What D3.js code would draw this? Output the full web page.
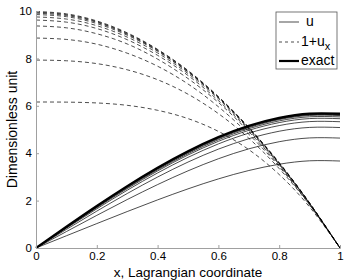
<!DOCTYPE html>
<html>
<head>
<meta charset="utf-8">
<script src="https://cdn.jsdelivr.net/npm/d3@7"></script>
<style>
  body { margin: 0; background: #fff; }
  text { font-family: "Liberation Sans", Arial, sans-serif; fill: #000; }
</style>
</head>
<body>
<script>
// sample points along x (Lagrangian coordinate)
var xs = [0, 0.1, 0.2, 0.3, 0.4, 0.5, 0.6, 0.7, 0.8, 0.9, 1];

// numerical iterations of u (solid thin lines)
var uSeries = [
  [0, 0.516, 1.030, 1.538, 2.030, 2.495, 2.916, 3.270, 3.534, 3.679, 3.67],
  [0, 0.693, 1.377, 2.044, 2.676, 3.256, 3.766, 4.184, 4.485, 4.644, 4.638],
  [0, 0.784, 1.556, 2.298, 2.995, 3.626, 4.172, 4.611, 4.927, 5.088, 5.083],
  [0, 0.835, 1.653, 2.437, 3.167, 3.825, 4.392, 4.846, 5.166, 5.334, 5.328],
  [0, 0.859, 1.700, 2.504, 3.252, 3.925, 4.501, 4.965, 5.292, 5.461, 5.456],
  [0, 0.872, 1.725, 2.541, 3.299, 3.981, 4.566, 5.033, 5.364, 5.537, 5.532],
  [0, 0.882, 1.745, 2.569, 3.335, 4.022, 4.613, 5.083, 5.418, 5.593, 5.588],
  [0, 0.888, 1.756, 2.585, 3.355, 4.047, 4.639, 5.112, 5.446, 5.622, 5.618],
  [0, 0.892, 1.764, 2.596, 3.369, 4.062, 4.656, 5.131, 5.466, 5.642, 5.639],
  [0, 0.895, 1.770, 2.604, 3.379, 4.074, 4.670, 5.146, 5.482, 5.660, 5.657]
];

// numerical iterations of 1+u_x (dashed lines)
var duSeries = [
  [6.16, 6.155, 6.12, 6.02, 5.81, 5.46, 4.92, 4.15, 3.10, 1.73, 0],
  [7.93, 7.90, 7.78, 7.52, 7.10, 6.49, 5.67, 4.63, 3.35, 1.81, 0],
  [8.86, 8.80, 8.60, 8.22, 7.67, 6.92, 5.96, 4.80, 3.43, 1.83, 0],
  [9.37, 9.29, 9.04, 8.61, 7.97, 7.15, 6.14, 4.91, 3.48, 1.85, 0],
  [9.62, 9.53, 9.26, 8.79, 8.13, 7.28, 6.22, 4.97, 3.52, 1.86, 0],
  [9.75, 9.66, 9.38, 8.90, 8.23, 7.36, 6.30, 5.02, 3.55, 1.88, 0],
  [9.85, 9.76, 9.47, 8.98, 8.30, 7.42, 6.34, 5.05, 3.57, 1.89, 0],
  [9.91, 9.81, 9.52, 9.02, 8.33, 7.44, 6.35, 5.06, 3.58, 1.89, 0],
  [9.95, 9.85, 9.55, 9.05, 8.36, 7.47, 6.37, 5.08, 3.59, 1.90, 0],
  [9.98, 9.88, 9.58, 9.08, 8.38, 7.49, 6.39, 5.09, 3.60, 1.90, 0]
];

// exact solution (thick line)
var uExact = [0, 0.897, 1.773, 2.610, 3.387, 4.083, 4.680, 5.157, 5.493, 5.670, 5.667];

var xTicks = [0, 0.2, 0.4, 0.6, 0.8, 1];
var yTicks = [0, 2, 4, 6, 8, 10];

var margin = {top: 11, right: 6, bottom: 32, left: 36},
    W = 346, H = 280,
    width = W - margin.left - margin.right,
    height = H - margin.top - margin.bottom;

var svg = d3.select("body").append("svg")
    .attr("width", W)
    .attr("height", H);

var g = svg.append("g")
    .attr("transform", "translate(" + margin.left + "," + margin.top + ")");

var x = d3.scaleLinear().domain([0, 1]).range([0, width]);
var y = d3.scaleLinear().domain([0, 10]).range([height, 0]);

var line = d3.line()
    .x(function(d, i) { return x(xs[i]); })
    .y(function(d) { return y(d); })
    .curve(d3.curveNatural);

// dashed 1+u_x
g.selectAll(".du")
    .data(duSeries)
  .enter().append("path")
    .attr("class", "du")
    .attr("d", line)
    .attr("fill", "none")
    .attr("stroke", "#000")
    .attr("stroke-width", 0.7)
    .attr("stroke-dasharray", "4,3");

// solid u
g.selectAll(".u")
    .data(uSeries)
  .enter().append("path")
    .attr("class", "u")
    .attr("d", line)
    .attr("fill", "none")
    .attr("stroke", "#000")
    .attr("stroke-width", 0.7);

// exact
g.append("path")
    .datum(uExact)
    .attr("d", line)
    .attr("fill", "none")
    .attr("stroke", "#000")
    .attr("stroke-width", 2.2);

// axes, matlab style with inward ticks
var xAxis = g.append("g")
    .attr("transform", "translate(0," + height + ")")
    .call(d3.axisBottom(x).tickValues(xTicks).tickSize(-3).tickPadding(4)
      .tickFormat(function(d) { return d === 0 || d === 1 ? d : d3.format(".1f")(d); }));

var yAxis = g.append("g")
    .call(d3.axisLeft(y).tickValues(yTicks).tickSize(-3).tickPadding(4));

[xAxis, yAxis].forEach(function(a) {
  a.select(".domain").attr("stroke", "#a0a0a0");
  a.selectAll(".tick line").attr("stroke", "#a0a0a0");
  a.selectAll(".tick text").attr("font-size", 11.5).attr("font-family", "Liberation Sans, Arial, sans-serif").attr("fill", "#000");
});

// axis titles
svg.append("text")
    .attr("x", margin.left + width / 2)
    .attr("y", 277)
    .attr("text-anchor", "middle")
    .attr("font-size", 13.5)
    .text("x, Lagrangian coordinate");

svg.append("text")
    .attr("transform", "translate(17," + (margin.top + height / 2) + ") rotate(-90)")
    .attr("text-anchor", "middle")
    .attr("font-size", 14)
    .text("Dimensionless unit");

// legend
var lg = svg.append("g").attr("transform", "translate(276,12)");
lg.append("rect")
    .attr("width", 61).attr("height", 57)
    .attr("fill", "#fff").attr("stroke", "#555").attr("stroke-width", 0.8);

var legendItems = [
  {y: 10, w: 0.7, dash: null, label: "u", tx: 30},
  {y: 30, w: 0.7, dash: "3,3", label: "1+u", tx: 25},
  {y: 49, w: 2.2, dash: null, label: "exact", tx: 25}
];

legendItems.forEach(function(d) {
  lg.append("line")
    .attr("x1", 3).attr("x2", 23)
    .attr("y1", d.y).attr("y2", d.y)
    .attr("stroke", "#000").attr("stroke-width", d.w)
    .attr("stroke-dasharray", d.dash);
  var t = lg.append("text")
    .attr("x", d.tx).attr("y", d.y + 4)
    .attr("font-size", 14)
    .text(d.label);
  if (d.label === "1+u") {
    t.append("tspan").attr("dy", 4).attr("font-size", 11).text("x");
  }
});
</script>
</body>
</html>
